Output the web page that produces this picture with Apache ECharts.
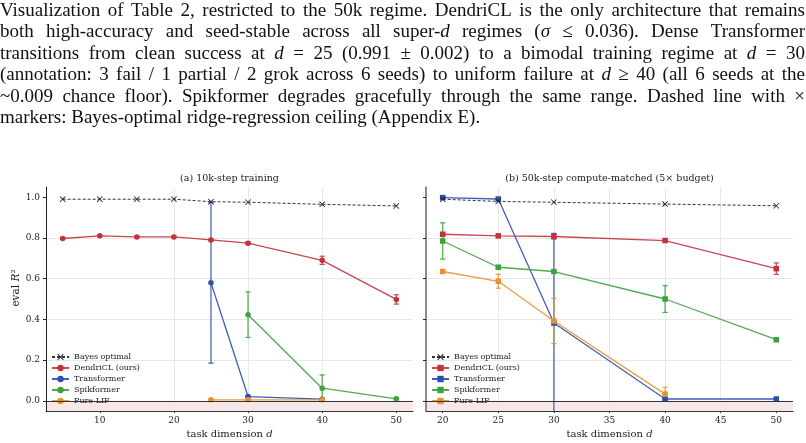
<!DOCTYPE html>
<html><head><meta charset="utf-8">
<script src="https://cdn.jsdelivr.net/npm/echarts@6/dist/echarts.min.js"></script>
<style>html,body{margin:0;padding:0;background:#fff}#c{width:806px;height:443px}</style>
</head><body><div id="c"></div>
<script>
// ---------------- data ----------------
const captionLines = [
  "Visualization of Table 2, restricted to the 50k regime. DendriCL is the only architecture that remains",
  "both high-accuracy and seed-stable across all super-*d* regimes (*σ* ≤ 0.036). Dense Transformer",
  "transitions from clean success at *d* = 25 (0.991 ± 0.002) to a bimodal training regime at *d* = 30",
  "(annotation: 3 fail / 1 partial / 2 grok across 6 seeds) to uniform failure at *d* ≥ 40 (all 6 seeds at the",
  "~0.009 chance floor). Spikformer degrades gracefully through the same range. Dashed line with ×",
  "markers: Bayes-optimal ridge-regression ceiling (Appendix E)."
];
const panelTitles = ["(a) 10k-step training", "(b) 50k-step compute-matched (5× budget)"];
const seriesNames = ["Bayes optimal", "DendriCL (ours)", "Transformer", "Spikformer", "Pure LIF"];
const yTicks = [0, 0.2, 0.4, 0.6, 0.8, 1.0];
const xTicksA = [10, 20, 30, 40, 50];
const xTicksB = [20, 25, 30, 35, 40, 45, 50];

// panel (a): 10k-step
const dimsA = [5, 10, 15, 20, 25, 30, 40, 50];
const bayesA = [0.990, 0.990, 0.990, 0.990, 0.978, 0.975, 0.965, 0.957];
const dendriA = [0.797, 0.810, 0.805, 0.805, 0.790, 0.774, 0.690, 0.498];
const dendriAErr = [0.004, 0.004, 0.004, 0.004, 0.005, 0.006, 0.020, 0.023];
const transA = [null, null, null, null, 0.580, 0.021, 0.008, null];
const transAErr = [null, null, null, null, 0.395, 0.004, 0.003, null];
const spikA = [null, null, null, null, null, 0.423, 0.062, 0.010];
const spikAErr = [null, null, null, null, null, 0.112, 0.065, 0.004];
const lifA = [null, null, null, null, 0.005, 0.005, 0.005, null];
const lifAErr = [null, null, null, null, 0.003, 0.003, 0.003, null];

// panel (b): 50k-step
const dimsB = [20, 25, 30, 40, 50];
const bayesB = [0.990, 0.979, 0.975, 0.966, 0.958];
const dendriB = [0.818, 0.810, 0.807, 0.787, 0.649];
const dendriBErr = [0.006, 0.004, 0.012, 0.004, 0.028];
const transB = [0.998, 0.991, 0.382, 0.009, 0.009];
const transBErr = [0.002, 0.002, 0.440, 0.001, 0.001];
const spikB = [0.785, 0.656, 0.635, 0.500, 0.300];
const spikBErr = [0.089, 0.006, 0.008, 0.066, 0.005];
const lifB = [0.635, 0.587, 0.392, 0.033, null];
const lifBErr = [0.006, 0.034, 0.111, 0.034, null];

// ---------------- style ----------------
const COLORS = ["#222222", "#c4323c", "#2c4eb0", "#3ca23c", "#e8922e"];
const SERIF = "DejaVu Serif";
const YMIN = -0.05, YMAX = 1.05;
const XMARK = "path://M0,1 L1,0 L5,4 L9,0 L10,1 L6,5 L10,9 L9,10 L5,6 L1,10 L0,9 L4,5 Z";

// ---------------- caption (justified) ----------------
const CAP_FS = 19, CAP_FONT = "Liberation Serif", CAP_W = 806;
const mctx = document.createElement("canvas").getContext("2d");
function measure(t, it) { mctx.font = (it ? "italic " : "") + CAP_FS + "px \"" + CAP_FONT + "\""; return mctx.measureText(t).width; }
const capGraphics = [];
captionLines.forEach((line, li) => {
  const words = line.split(" ").map(w => {
    const segs = w.split("*").map((s, k) => ({ t: s, it: k % 2 === 1 })).filter(s => s.t.length);
    segs.forEach(s => s.w = measure(s.t, s.it));
    return { segs, w: segs.reduce((a, s) => a + s.w, 0) };
  });
  const total = words.reduce((a, w) => a + w.w, 0);
  const last = li === captionLines.length - 1;
  const gap = last ? measure(" ", false) : (CAP_W - 1 - total) / (words.length - 1);
  let x = 0;
  const y = 11 + li * 21.4;
  words.forEach(w => {
    w.segs.forEach(s => {
      capGraphics.push({ type: "text", x: x, y: y, silent: true,
        style: { text: s.t, fontSize: CAP_FS, fontFamily: CAP_FONT, fontStyle: s.it ? "italic" : "normal",
                 fill: "#111", verticalAlign: "middle", textVerticalAlign: "middle" } });
      x += s.w;
    });
    x += gap;
  });
});

// ---------------- chart ----------------
function pairs(dims, vals) { return dims.map((d, i) => [d, vals[i]]).filter(p => p[1] != null); }
function triples(dims, vals, errs) { return dims.map((d, i) => [d, vals[i], errs[i]]).filter(p => p[1] != null); }

function errRender(color) {
  return function (params, api) {
    const x = api.value(0), y = api.value(1), e = api.value(2);
    let hi = y + e, lo = y - e, hiC = false, loC = false;
    if (lo < YMIN) { lo = YMIN; loC = true; }
    if (hi > YMAX) { hi = YMAX; hiC = true; }
    const p1 = api.coord([x, hi]), p2 = api.coord([x, lo]);
    const cw = 2.6, st = { stroke: color, lineWidth: 1.3, opacity: 0.85 };
    const ch = [{ type: "line", shape: { x1: p1[0], y1: p1[1], x2: p2[0], y2: p2[1] }, style: st }];
    if (!hiC) ch.push({ type: "line", shape: { x1: p1[0] - cw, y1: p1[1], x2: p1[0] + cw, y2: p1[1] }, style: st });
    if (!loC) ch.push({ type: "line", shape: { x1: p2[0] - cw, y1: p2[1], x2: p2[0] + cw, y2: p2[1] }, style: st });
    return { type: "group", children: ch };
  };
}

const SUFFIX = ["", "\u200b"];
function panelSeries(pi, dims, bayes, groups, sym) {
  const out = [];
  out.push({
    type: "line", name: seriesNames[0] + SUFFIX[pi], xAxisIndex: pi, yAxisIndex: pi,
    data: pairs(dims, bayes), symbol: XMARK, symbolSize: 6, z: 4,
    lineStyle: { color: "#333", width: 1, type: [3, 2] },
    itemStyle: { color: "#222" },
    markArea: { silent: true, z: 0, itemStyle: { color: "#f6e8e8" }, data: [[{ yAxis: YMIN }, { yAxis: 0 }]] },
    markLine: { silent: true, symbol: "none", label: { show: false },
      lineStyle: { color: "#333", width: 1, type: "solid" }, data: [{ yAxis: 0 }] },
    animation: false
  });
  groups.forEach((g, k) => {
    const c = COLORS[k + 1];
    out.push({
      type: "line", name: seriesNames[k + 1] + SUFFIX[pi], xAxisIndex: pi, yAxisIndex: pi,
      data: pairs(dims, g[0]), symbol: sym, symbolSize: 5.5, z: 3,
      lineStyle: { color: c, width: 1.3, opacity: 0.9 }, itemStyle: { color: c }, animation: false
    });
    out.push({
      type: "custom", name: seriesNames[k + 1] + "_err" + pi, xAxisIndex: pi, yAxisIndex: pi,
      data: triples(dims, g[0], g[1]), renderItem: errRender(c), z: 2, animation: false,
      encode: { x: 0, y: 1 }
    });
  });
  return out;
}

const series = [
  ...panelSeries(0, dimsA, bayesA, [[dendriA, dendriAErr], [transA, transAErr], [spikA, spikAErr], [lifA, lifAErr]], "circle"),
  ...panelSeries(1, dimsB, bayesB, [[dendriB, dendriBErr], [transB, transBErr], [spikB, spikBErr], [lifB, lifBErr]], "rect")
];

const gridBase = { top: 187, height: 224, width: 367, containLabel: false, outerBoundsMode: "none" };
const tickLabel = { fontFamily: SERIF, fontSize: 9, color: "#222" };

function xAxis(gi, min, max, ticks) {
  return {
    type: "value", gridIndex: gi, min: min, max: max,
    name: "task dimension {i|d}", nameLocation: "middle", nameGap: 15,
    nameTextStyle: { fontFamily: SERIF, fontSize: 10, color: "#222",
      rich: { i: { fontFamily: SERIF, fontSize: 10, fontStyle: "italic", color: "#222" } } },
    axisLine: { show: true, onZero: false, lineStyle: { color: "#333", width: 1 } },
    axisTick: { show: true, customValues: ticks, length: 2, inside: false, lineStyle: { color: "#333" } },
    axisLabel: { customValues: ticks, margin: 5, formatter: v => String(v), ...tickLabel },
    splitLine: { show: true, showMinLine: false, showMaxLine: false, lineStyle: { color: "#e8e8e8", width: 1 } }
  };
}
function yAxis(gi, withLabels) {
  return {
    type: "value", gridIndex: gi, min: YMIN, max: YMAX,
    name: withLabels ? "eval {i|R}²" : "", nameLocation: "middle", nameGap: 23,
    nameTextStyle: { fontFamily: SERIF, fontSize: 10.5, color: "#222", padding: [0, 0, 0, 22],
      rich: { i: { fontFamily: SERIF, fontSize: 10.5, fontStyle: "italic", color: "#222" } } },
    axisLine: { show: true, onZero: false, lineStyle: { color: withLabels ? "#222" : "#666", width: withLabels ? 1 : 1.5 } },
    axisTick: { show: true, customValues: yTicks, length: 3, inside: false, lineStyle: { color: "#222" } },
    axisLabel: { show: withLabels, customValues: yTicks, margin: 6, formatter: v => v.toFixed(1), ...tickLabel },
    splitLine: { show: true, showMinLine: false, showMaxLine: false, lineStyle: { color: "#e8e8e8", width: 1 } }
  };
}

const legendBase = {
  orient: "vertical", itemWidth: 17, itemHeight: 8, itemGap: 3, padding: 0,
  textStyle: { fontFamily: SERIF, fontSize: 8, color: "#222" },
  formatter: n => n.replace(/\u200b/g, ""), selectedMode: false
};

const option = {
  backgroundColor: "#ffffff",
  animation: false,
  title: [
    { text: panelTitles[0], left: 229.5, top: 174, textAlign: "center", padding: 0,
      textStyle: { fontFamily: SERIF, fontSize: 9.5, fontWeight: "normal", color: "#222" } },
    { text: panelTitles[1], left: 609.5, top: 174, textAlign: "center", padding: 0,
      textStyle: { fontFamily: SERIF, fontSize: 9.5, fontWeight: "normal", color: "#222" } }
  ],
  legend: [
    { ...legendBase, data: seriesNames.map(n => n + SUFFIX[0]), left: 51, top: 353 },
    { ...legendBase, data: seriesNames.map(n => n + SUFFIX[1]), left: 431, top: 353 }
  ],
  grid: [{ ...gridBase, left: 46 }, { ...gridBase, left: 426 }],
  xAxis: [xAxis(0, 2.75, 52.25, xTicksA), xAxis(1, 18.5, 51.5, xTicksB)],
  yAxis: [yAxis(0, true), yAxis(1, false)],
  graphic: capGraphics,
  series: series
};

const chart = echarts.init(document.getElementById("c"), null, { renderer: "canvas" });
chart.setOption(option);
</script>
</body></html>
